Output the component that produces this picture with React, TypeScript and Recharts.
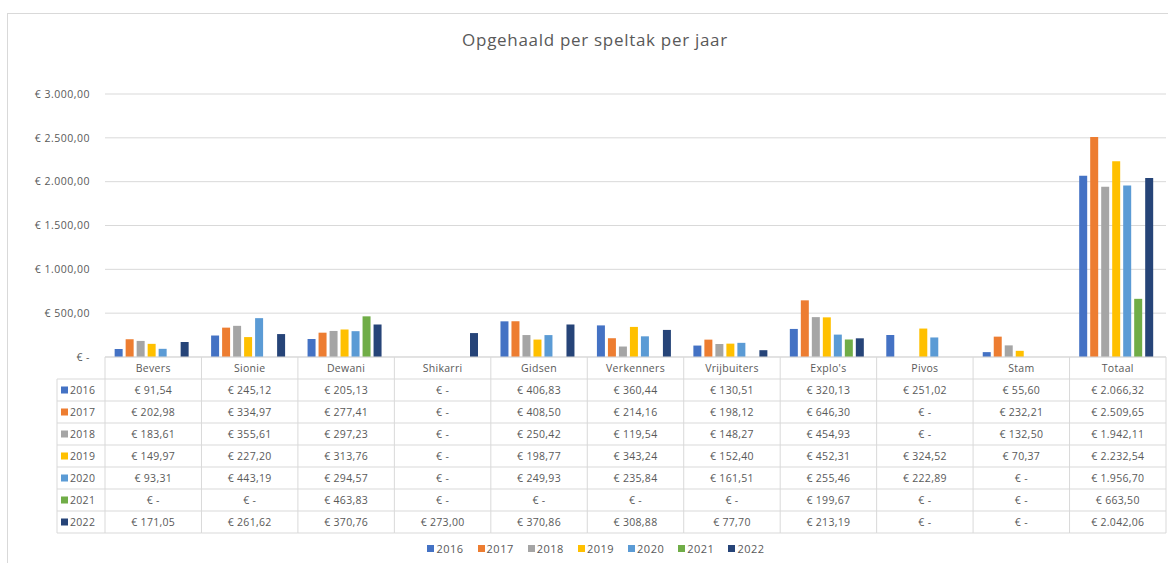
import React from 'react';
import { BarChart, Bar, XAxis, YAxis, CartesianGrid } from 'recharts';

const categories = ['Bevers', 'Sionie', 'Dewani', 'Shikarri', 'Gidsen', 'Verkenners', 'Vrijbuiters', "Explo's", 'Pivos', 'Stam', 'Totaal'];
const years = ['2016', '2017', '2018', '2019', '2020', '2021', '2022'];

const v2016 = [91.54, 245.12, 205.13, 0, 406.83, 360.44, 130.51, 320.13, 251.02, 55.6, 2066.32];
const v2017 = [202.98, 334.97, 277.41, 0, 408.5, 214.16, 198.12, 646.3, 0, 232.21, 2509.65];
const v2018 = [183.61, 355.61, 297.23, 0, 250.42, 119.54, 148.27, 454.93, 0, 132.5, 1942.11];
const v2019 = [149.97, 227.2, 313.76, 0, 198.77, 343.24, 152.4, 452.31, 324.52, 70.37, 2232.54];
const v2020 = [93.31, 443.19, 294.57, 0, 249.93, 235.84, 161.51, 255.46, 222.89, 0, 1956.7];
const v2021 = [0, 0, 463.83, 0, 0, 0, 0, 199.67, 0, 0, 663.5];
const v2022 = [171.05, 261.62, 370.76, 273.0, 370.86, 308.88, 77.7, 213.19, 0, 0, 2042.06];

const yTicks = [0, 500, 1000, 1500, 2000, 2500, 3000];

const series = [v2016, v2017, v2018, v2019, v2020, v2021, v2022];
const colors = ['#4472C4', '#ED7D31', '#A5A5A5', '#FFC000', '#5B9BD5', '#70AD47', '#264478'];

const data = categories.map((name, i) => {
  const row: Record<string, string | number> = { name };
  years.forEach((y, s) => (row[y] = series[s][i]));
  return row;
});

const W = 1168;
const H = 563;
const Y_AXIS_W = 105;
const M_RIGHT = 2;
const COL_W = (W - Y_AXIS_W - M_RIGHT) / categories.length;
const ROW_H = 22;
const KEY_LEFT = 57;
const GRID = '#d9d9d9';
const TEXT = '#595959';
const FONT = '"Open Sans", sans-serif';

function euro(v: number) {
  if (!v) return '€ -';
  const [i, d] = v.toFixed(2).split('.');
  return '€ ' + i.replace(/\B(?=(\d{3})+(?!\d))/g, '.') + ',' + d;
}

// each x tick draws one column of the data table underneath the plot
function TableTick(props: any) {
  const { x, y, payload, index } = props;
  const left = x - COL_W / 2;
  const rows = years.length + 1;
  const last = index === categories.length - 1;
  return (
    <g fontFamily={FONT} fontSize={10.5} fill={TEXT} letterSpacing={0.3}>
      <line x1={left} x2={left} y1={y} y2={y + rows * ROW_H} stroke={GRID} />
      {last && <line x1={left + COL_W} x2={left + COL_W} y1={y} y2={y + rows * ROW_H} stroke={GRID} />}
      {Array.from({ length: rows }, (_, k) => (
        <line key={k} x1={left} x2={left + COL_W} y1={y + (k + 1) * ROW_H} y2={y + (k + 1) * ROW_H} stroke={GRID} />
      ))}
      <text x={x} y={y + ROW_H / 2} textAnchor="middle" dominantBaseline="central">{payload.value}</text>
      {series.map((s, r) => (
        <text key={r} x={x} y={y + (r + 1.5) * ROW_H} textAnchor="middle" dominantBaseline="central">
          {euro(s[index])}
        </text>
      ))}
      {index === 0 && (
        <g>
          <line x1={KEY_LEFT} x2={KEY_LEFT} y1={y + ROW_H} y2={y + rows * ROW_H} stroke={GRID} />
          {Array.from({ length: rows - 1 }, (_, k) => (
            <line key={k} x1={KEY_LEFT} x2={left} y1={y + (k + 1) * ROW_H} y2={y + (k + 1) * ROW_H} stroke={GRID} />
          ))}
          <line x1={KEY_LEFT} x2={left} y1={y + rows * ROW_H} y2={y + rows * ROW_H} stroke={GRID} />
          {years.map((yr, r) => (
            <g key={yr}>
              <rect x={KEY_LEFT + 4} y={y + (r + 1.5) * ROW_H - 3.5} width={7} height={7} fill={colors[r]} />
              <text x={KEY_LEFT + 13} y={y + (r + 1.5) * ROW_H} dominantBaseline="central">{yr}</text>
            </g>
          ))}
        </g>
      )}
    </g>
  );
}

export default function App() {
  return (
    <div style={{ position: 'absolute', left: 0, top: 0, width: W, height: H, overflow: 'hidden', background: '#fff', fontFamily: FONT }}>
      <div style={{ position: 'absolute', left: 7, top: 13, width: W, height: H, borderLeft: `1px solid ${GRID}`, borderTop: `1px solid ${GRID}` }} />
      <div style={{ position: 'absolute', left: 22, top: 28, width: W - 22, textAlign: 'center', fontSize: 17, color: TEXT, letterSpacing: 0.7 }}>
        Opgehaald per speltak per jaar
      </div>
      <div style={{ position: 'absolute', left: 0, top: 0 }}>
        <BarChart width={W} height={H} data={data} margin={{ top: 94, right: M_RIGHT, left: 0, bottom: 26 }} barCategoryGap="10%" barGap={3}>
          <CartesianGrid vertical={false} stroke={GRID} />
          <XAxis dataKey="name" height={180} interval={0} tickSize={0} tickMargin={0} tickLine={false} axisLine={{ stroke: GRID }} tick={<TableTick />} />
          <YAxis width={Y_AXIS_W} domain={[0, 3000]} ticks={yTicks} axisLine={false} tickLine={false} tickSize={0} tickMargin={15}
            tickFormatter={euro} tick={{ fill: TEXT, fontSize: 10.5, fontFamily: FONT, letterSpacing: 0.5 }} />
          {years.map((y, s) => (
            <Bar key={y} dataKey={y} name={y} fill={colors[s]} isAnimationActive={false} />
          ))}
        </BarChart>
      </div>
      <div style={{ position: 'absolute', left: 24, top: 541, width: W - 24, display: 'flex', justifyContent: 'center', gap: 14, fontSize: 11, color: TEXT, letterSpacing: 0.5 }}>
        {years.map((y, s) => (
          <span key={y} style={{ display: 'flex', alignItems: 'center', gap: 2 }}>
            <span style={{ width: 7, height: 7, background: colors[s], display: 'inline-block' }} />
            {y}
          </span>
        ))}
      </div>
    </div>
  );
}
